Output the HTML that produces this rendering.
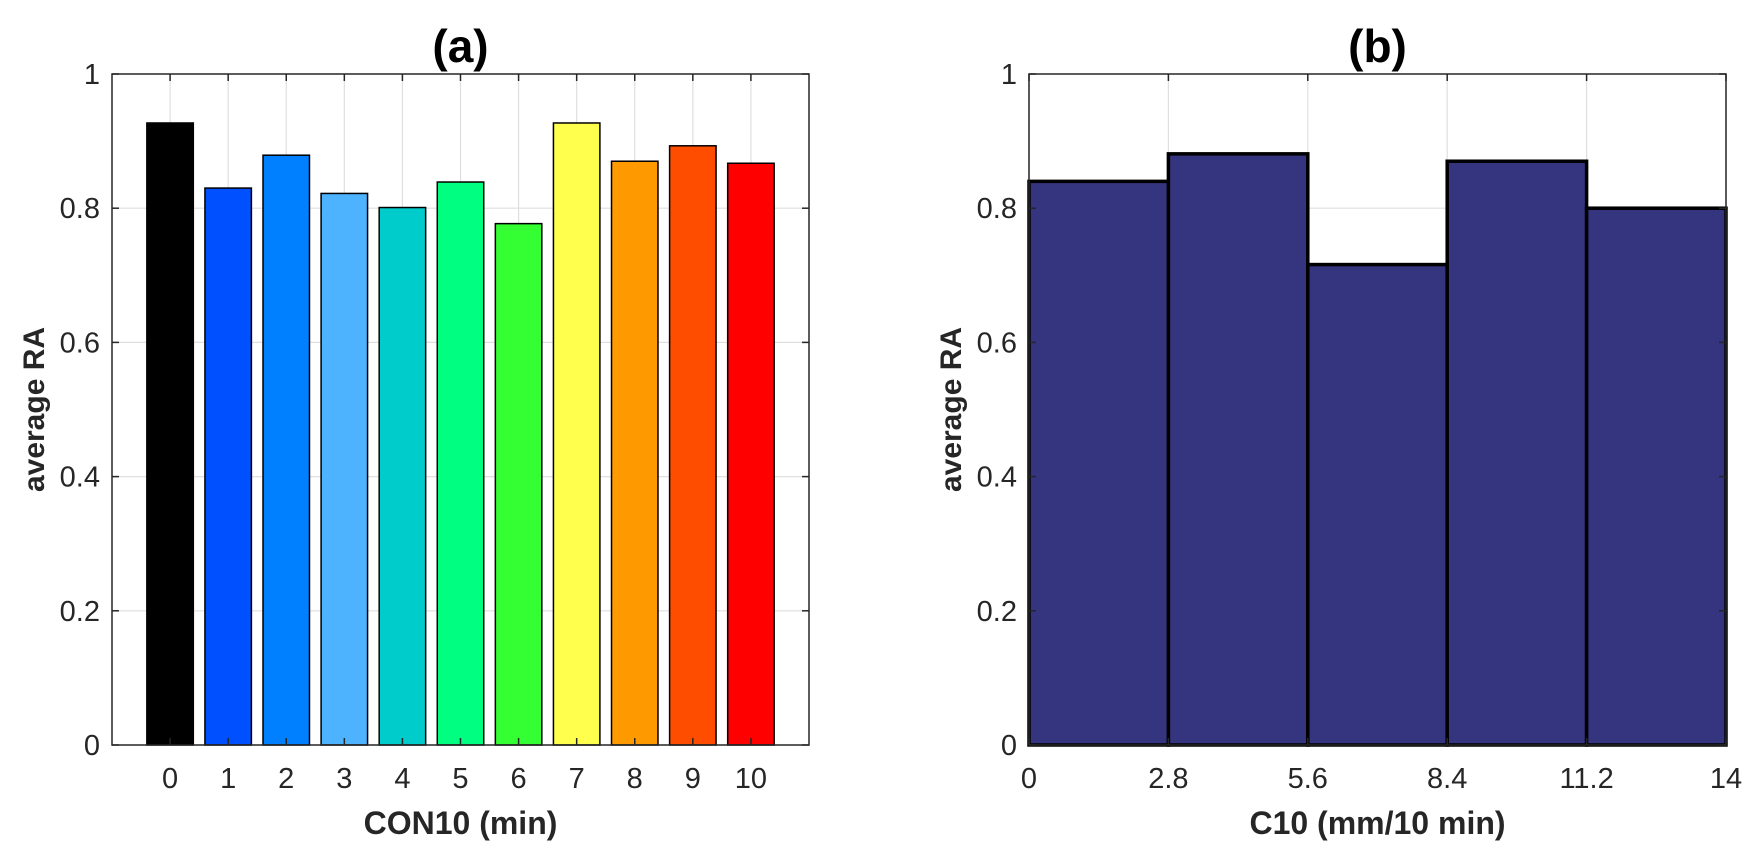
<!DOCTYPE html>
<html><head><meta charset="utf-8"><style>
html,body{margin:0;padding:0;background:#fff;}
svg{display:block;font-family:"Liberation Sans",Arial,sans-serif;}
</style></head><body>
<svg id="chart" width="1759" height="858" viewBox="0 0 1759 858"></svg>
<script>
const catsA = [0,1,2,3,4,5,6,7,8,9,10];
const valsA = [0.927,0.830,0.879,0.822,0.801,0.839,0.777,0.927,0.870,0.893,0.867];
const colorsA = ["#000000","#0050ff","#0080ff","#4db3ff","#00cccc","#00ff80","#33ff33","#ffff4d","#ff9900","#ff4d00","#ff0000"];
const edgesB = [0,2.8,5.6,8.4,11.2,14];
const valsB = [0.840,0.881,0.716,0.870,0.800];
const xTicksB = ["0","2.8","5.6","8.4","11.2","14"];
const yTicks = [0,0.2,0.4,0.6,0.8,1];

const NS="http://www.w3.org/2000/svg";
const svg=document.getElementById('chart');
function mk(tag,attrs,parent,text){const e=document.createElementNS(NS,tag);for(const k in attrs)e.setAttribute(k,attrs[k]);if(text!==undefined)e.textContent=text;(parent||svg).appendChild(e);return e;}
const TOP=74,BOT=745;
function Y(v){return BOT-(v)*(BOT-TOP);}

function axes(g,L,R,xs,xticks){
  yTicks.forEach(t=>{if(t>0&&t<1){const l=mk('line',{x1:L,x2:R,y1:Y(t),y2:Y(t),stroke:'#dfdfdf','stroke-width':1.2},g);}});
  xticks.forEach(t=>{const x=xs(t);const l=mk('line',{x1:x,x2:x,y1:TOP,y2:BOT,stroke:'#dfdfdf','stroke-width':1.2},g);});
}
function frame(g,L,R,xs,xticks,xlabels,title,xlabel){
  const f=mk('rect',{x:L,y:TOP,width:R-L,height:BOT-TOP,fill:'none',stroke:'#262626','stroke-width':1.5},g);
  
  yTicks.forEach(t=>{
    mk('line',{x1:L,x2:L+7,y1:Y(t),y2:Y(t),stroke:'#262626','stroke-width':1.5},g);
    mk('line',{x1:R,x2:R-7,y1:Y(t),y2:Y(t),stroke:'#262626','stroke-width':1.5},g);
    const tx=mk('text',{x:L-12,y:Y(t)+10,'text-anchor':'end','font-size':29,fill:'#262626'},g,String(t));
    
  });
  xticks.forEach((t,i)=>{
    const x=xs(t);
    mk('line',{x1:x,x2:x,y1:BOT,y2:BOT-7,stroke:'#262626','stroke-width':1.5},g);
    mk('line',{x1:x,x2:x,y1:TOP,y2:TOP+7,stroke:'#262626','stroke-width':1.5},g);
    const tx=mk('text',{x:x,y:788,'text-anchor':'middle','font-size':29,fill:'#262626'},g,xlabels[i]);
    
  });
  const cx=(L+R)/2;
  const tt=mk('text',{x:cx,y:62,'text-anchor':'middle','font-size':46,'font-weight':'bold',fill:'#000'},g,title);
  
  const xl=mk('text',{x:cx,y:834,'text-anchor':'middle','font-size':32,'font-weight':'bold',fill:'#262626'},g,xlabel);
  
  const yl=mk('text',{x:0,y:0,'text-anchor':'middle','font-size':30,'font-weight':'bold',fill:'#262626',transform:`translate(${L-68},${(TOP+BOT)/2}) rotate(-90)`},g,'average RA');
  
}

// Panel A
const gA=mk('g',{});
const LA=112,RA=809;
const xsA=v=>LA+(v+1)*(RA-LA)/12;
axes(gA,LA,RA,xsA,catsA);
catsA.forEach((c,i)=>{
  const w=0.8*(RA-LA)/12;
  const r=mk('rect',{x:xsA(c)-w/2,y:Y(valsA[i]),width:w,height:BOT-Y(valsA[i]),fill:colorsA[i],stroke:'#000','stroke-width':1.5},gA);
  
});
frame(gA,LA,RA,xsA,catsA,catsA.map(String),'(a)','CON10 (min)');

// Panel B
const gB=mk('g',{});
const LB=1029,RB=1726;
const xsB=v=>LB+v/14*(RB-LB);
axes(gB,LB,RB,xsB,edgesB);
valsB.forEach((v,i)=>{
  const x0=xsB(edgesB[i]),x1=xsB(edgesB[i+1]);
  const r=mk('rect',{x:x0,y:Y(v),width:x1-x0,height:BOT-Y(v),fill:'#35347e',stroke:'#000','stroke-width':3.5},gB);
  
});
frame(gB,LB,RB,xsB,edgesB,xTicksB,'(b)','C10 (mm/10 min)');
</script>
</body></html>
